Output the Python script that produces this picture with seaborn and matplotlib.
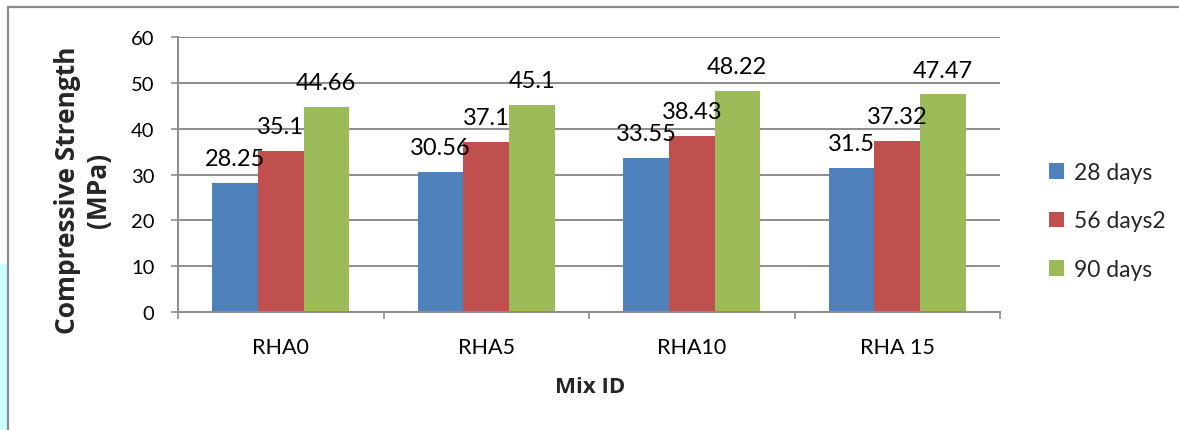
import matplotlib
matplotlib.use("Agg")
import matplotlib.pyplot as plt
import matplotlib.patches as mpatches
import seaborn as sns
import pandas as pd

# Compressive strength (MPa) by mix and curing age
mixes = ["RHA0", "RHA5", "RHA10", "RHA 15"]
ages = ["28 days", "56 days2", "90 days"]
strength_28 = [28.25, 30.56, 33.55, 31.5]
strength_56 = [35.1, 37.1, 38.43, 37.32]
strength_90 = [44.66, 45.1, 48.22, 47.47]
label_28 = ["28.25", "30.56", "33.55", "31.5"]
label_56 = ["35.1", "37.1", "38.43", "37.32"]
label_90 = ["44.66", "45.1", "48.22", "47.47"]
y_ticks = [0, 10, 20, 30, 40, 50, 60]

colors = ["#4F81BD", "#C0504D", "#9BBB59"]
grid_gray = "#8C8C8C"

rows = []
for age, vals in zip(ages, [strength_28, strength_56, strength_90]):
    for m, v in zip(mixes, vals):
        rows.append({"Mix ID": m, "Age": age, "Strength": v})
df = pd.DataFrame(rows)

sns.set_theme(style="white")
plt.rcParams["font.family"] = ["Lato", "DejaVu Sans"]
bold_family = ["Open Sans", "DejaVu Sans"]

W, H = 1179, 431
fig = plt.figure(figsize=(W / 100, H / 100), dpi=100)
ax = fig.add_axes([178 / W, 1 - 313 / H, (1000 - 178) / W, (313 - 38) / H])

sns.barplot(data=df, x="Mix ID", y="Strength", hue="Age", order=mixes,
            hue_order=ages, palette=colors, saturation=1, width=0.665,
            gap=0, errorbar=None, ax=ax, legend=True, linewidth=0)

for cont, labs in zip(ax.containers, [label_28, label_56, label_90]):
    ax.bar_label(cont, labels=labs, padding=10, fontsize=17, color="black")

ax.set_ylim(0, 60)
ax.set_xlim(-0.5, 3.5)
ax.set_yticks(y_ticks)
ax.set_yticklabels([str(t) for t in y_ticks], fontsize=14.5, color="black")
ax.yaxis.grid(True, color=grid_gray, linewidth=1.4)
ax.set_axisbelow(True)

# category boundaries get tick marks, centers carry the names
ax.set_xticks([-0.5, 0.5, 1.5, 2.5, 3.5])
ax.set_xticklabels([])
ax.set_xticks(range(len(mixes)), minor=True)
ax.set_xticklabels(mixes, minor=True, fontsize=15.5, color="black")
ax.tick_params(axis="x", which="major", direction="out", length=5,
               width=1.2, color=grid_gray, bottom=True)
ax.tick_params(axis="x", which="minor", length=0, pad=18)
ax.tick_params(axis="y", direction="out", length=5, width=1.2,
               color=grid_gray, left=True, pad=12)

for side in ["top", "right"]:
    ax.spines[side].set_visible(False)
for side in ["left", "bottom"]:
    ax.spines[side].set_color(grid_gray)
    ax.spines[side].set_linewidth(1.4)

ax.set_xlabel("")
ax.set_ylabel("")
fig.text(590 / W, 1 - 388 / H, "Mix ID", ha="center", va="center",
         fontsize=16, fontweight="bold", family=bold_family)
fig.text(83 / W, 1 - 190 / H, "Compressive Strength\n(MPa)", ha="center",
         va="center", rotation=90, fontsize=19, fontweight="bold",
         family=bold_family, linespacing=1.15)

leg = ax.legend(loc="center left", bbox_to_anchor=(1040 / W, 1 - 222 / H),
                bbox_transform=fig.transFigure, frameon=False, fontsize=16.5,
                handlelength=0.65, handleheight=0.65, handletextpad=0.45,
                labelspacing=1.2, borderaxespad=0)

# outer chart frame and side strip
fig.patches.append(mpatches.Rectangle((0, 0), 8 / W, 1 - 265 / H,
                                      transform=fig.transFigure,
                                      facecolor="#CCFFFF", edgecolor="none",
                                      zorder=0))
fig.add_artist(plt.Line2D([8 / W, 8 / W], [0, 1 - 8 / H],
                          transform=fig.transFigure, color="#8C8C8C",
                          linewidth=1.6))
fig.add_artist(plt.Line2D([8 / W, 1], [1 - 8 / H, 1 - 8 / H],
                          transform=fig.transFigure, color="#8C8C8C",
                          linewidth=1.6))

fig.savefig("out.png", dpi=100)
